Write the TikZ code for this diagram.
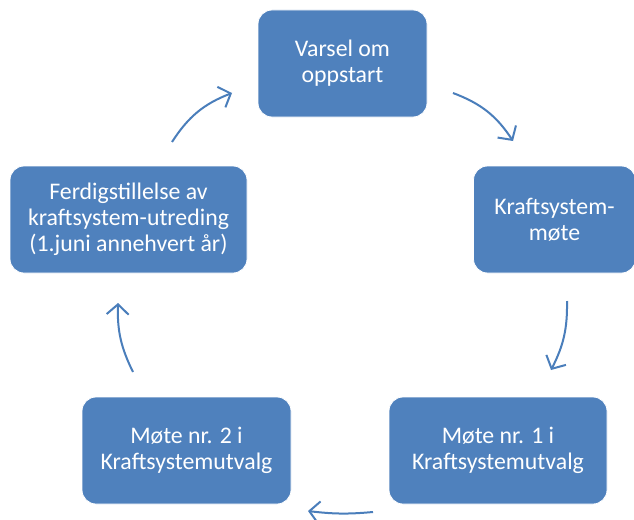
\documentclass[tikz,border=0pt]{standalone}
\usepackage{fontspec}
\setmainfont{Carlito}
\usetikzlibrary{arrows.meta}
\definecolor{boxblue}{HTML}{4F81BD}
\definecolor{arrowblue}{HTML}{4A7EBB}
\begin{document}
\begin{tikzpicture}[x=1pt,y=-1pt,
  stagebox/.style={fill=boxblue, draw=white, line width=0.8pt, rounded corners=14pt,
    text=white, align=center, inner sep=0pt,
    font=\fontsize{23.8}{26}\selectfont},
  cyclearrow/.style={draw=arrowblue, line width=2pt,
    -{Straight Barb[length=10pt,width=22pt,line width=2pt]}}
]
\useasboundingbox[fill=white] (0,0) rectangle (634,519);
\node[stagebox, minimum width=169pt, minimum height=107pt] (varsel) at (342.5,63.5) {Varsel om\\oppstart};
\node[stagebox, minimum width=162pt, minimum height=107pt] (kraft) at (554.5,219.5) {Kraftsystem-\\møte};
\node[stagebox, minimum width=218pt, minimum height=107pt] (mote1) at (498,450.5) {Møte nr. 1 i\\Kraftsystemutvalg};
\node[stagebox, minimum width=209pt, minimum height=107pt] (mote2) at (186.5,450.5) {Møte nr. 2 i\\Kraftsystemutvalg};
\node[stagebox, minimum width=237pt, minimum height=107pt] (ferdig) at (128.5,219.5) {Ferdigstillelse av\\kraftsystem-utreding\\(1.juni annehvert år)};

\coordinate (a1s) at (453,93);  \coordinate (a1e) at (513,141);
\coordinate (a2s) at (567,301); \coordinate (a2e) at (551,370);
\coordinate (a3s) at (373,512); \coordinate (a3e) at (308,511);
\coordinate (a4s) at (133,372); \coordinate (a4e) at (118,303);
\coordinate (a5s) at (172,142); \coordinate (a5e) at (232,93);

\draw[cyclearrow] (a1s) to[bend left=18] (a1e);
\draw[cyclearrow] (a2s) to[bend left=14] (a2e);
\draw[cyclearrow] (a3s) to[bend left=6] (a3e);
\draw[cyclearrow] (a4s) to[bend left=14] (a4e);
\draw[cyclearrow] (a5s) to[bend left=18] (a5e);
\end{tikzpicture}
\end{document}
